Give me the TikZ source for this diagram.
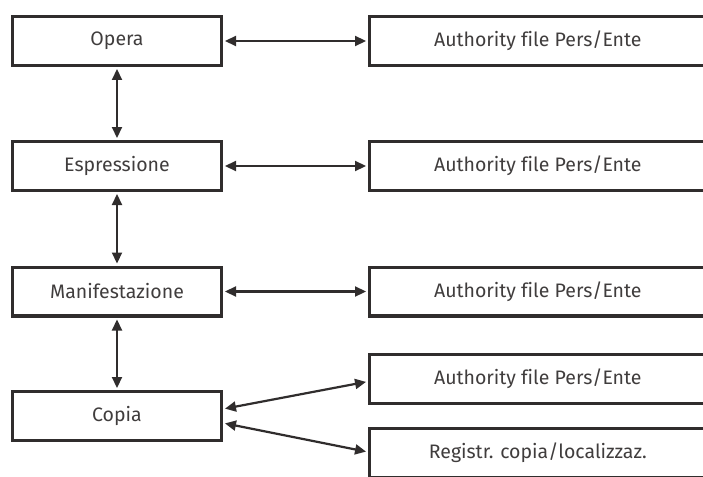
\documentclass[tikz,border=0pt]{standalone}
\usepackage{fontspec}
\setmainfont[Ligatures=NoCommon]{Fira Sans}
\usepackage{xcolor}
\definecolor{linegray}{HTML}{302D2D}
\definecolor{textgray}{HTML}{403D3D}
\usepackage{tikz}
\usetikzlibrary{arrows.meta}

\begin{document}
\begin{tikzpicture}[x=1pt, y=-1pt,
    box/.style={draw=linegray, line width=3.2pt, minimum width=208.8pt,
      minimum height=48.8pt, inner sep=0pt, text=textgray,
      font=\fontsize{19.5}{22}\selectfont},
    authbox/.style={box, minimum width=336.4pt},
    link/.style={{Triangle[length=11pt, width=10pt]}-{Triangle[length=11pt, width=10pt]},
      line width=2.2pt, draw=linegray, shorten <=2pt, shorten >=2pt}
]
  \useasboundingbox (0,0) rectangle (703,476);
  \clip (0,0) rectangle (703,476);

  % Ebenen links
  \node[box] (opera) at (117,41) {Opera};
  \node[box] (espr) at (117,166) {Espressione};
  \node[box] (manif) at (117,291.5) {Manifestazione};
  \node[box] (copia) at (117,416) {Copia};

  % Kaesten rechts (rechter Rand abgeschnitten)
  \node[authbox] (auth1) at (537.8,41) {Authority file Pers/Ente};
  \node[authbox] (auth2) at (537.8,166) {Authority file Pers/Ente};
  \node[authbox] (auth3) at (537.8,291.5) {Authority file Pers/Ente};
  \node[authbox] (auth4) at (537.8,379) {Authority file Pers/Ente};
  \node[authbox] (regist) at (537.8,453) {Registr. copia/localizzaz.};

  % Verbindungen senkrecht
  \draw[link] (opera) -- (espr);
  \draw[link] (espr) -- (manif);
  \draw[link] (manif) -- (copia);

  % Verbindungen waagrecht
  \draw[link] (opera) -- (auth1);
  \draw[link] (espr) -- (auth2);
  \draw[link] (manif) -- (auth3);
  \draw[link] ([yshift=7pt]copia.east) -- ([yshift=-2.5pt]auth4.west);
  \draw[link] ([yshift=-7pt]copia.east) -- ([yshift=1pt]regist.west);

\end{tikzpicture}
\end{document}
